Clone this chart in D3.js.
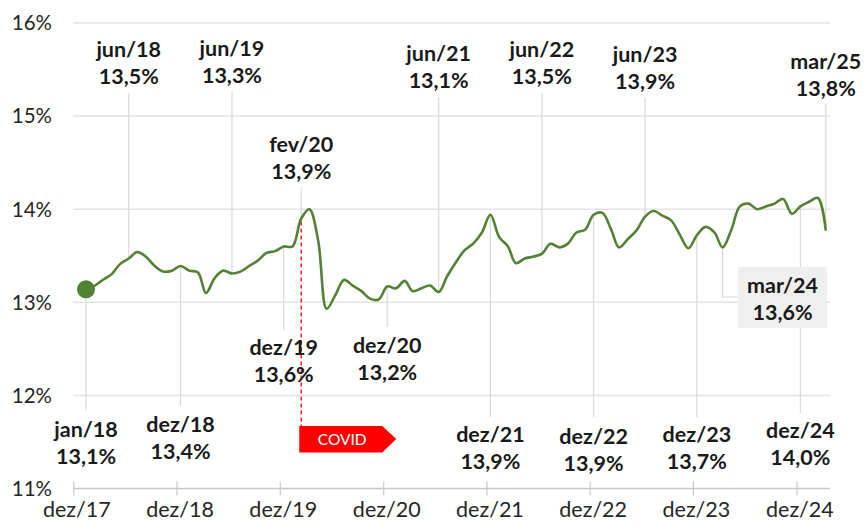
<!DOCTYPE html>
<html>
<head>
<meta charset="utf-8">
<script src="https://cdn.jsdelivr.net/npm/d3@7"></script>
<style>
  body { margin: 0; background: #fff; }
  svg { display: block; font-family: Lato, 'Open Sans', sans-serif; }
</style>
</head>
<body>
<svg id="chart" width="864" height="525"></svg>
<script>
var monthNames = ['jan', 'fev', 'mar', 'abr', 'mai', 'jun', 'jul', 'ago', 'set', 'out', 'nov', 'dez']

// monthly series, jan/18 .. mar/25
var rates = [
  13.14, 13.18, 13.24, 13.30, 13.41, 13.47, 13.54, 13.49, 13.39, 13.33, 13.34, 13.39,
  13.34, 13.32, 13.10, 13.26, 13.34, 13.31, 13.33, 13.39, 13.45, 13.53, 13.55, 13.60,
  13.60, 13.90, 14.00, 13.66, 12.93, 13.08, 13.24, 13.18, 13.12, 13.04, 13.03, 13.17,
  13.15, 13.23, 13.12, 13.15, 13.18, 13.11, 13.28, 13.43, 13.56, 13.63, 13.75, 13.94,
  13.70, 13.60, 13.42, 13.47, 13.49, 13.52, 13.63, 13.59, 13.63, 13.75, 13.78, 13.94,
  13.96, 13.78, 13.59, 13.68, 13.77, 13.92, 13.98, 13.93, 13.88, 13.73, 13.58, 13.72,
  13.81, 13.75, 13.59, 13.78, 14.03, 14.06, 14.00, 14.03, 14.06, 14.11, 13.95, 14.03,
  14.08, 14.12, 13.77
]

var yTicks = [11, 12, 13, 14, 15, 16]
var xTickYears = [2017, 2018, 2019, 2020, 2021, 2022, 2023, 2024]

// annotated months (index into rates)
var topNotes = [5, 17, 25, 41, 53, 65, 86]
var bottomNotes = [0, 11, 23, 35, 47, 59, 71, 83]
var boxedNote = 74
var covidMonth = 25
var covidText = 'COVID'

// text baselines of the annotation labels (layout only)
var noteLayout = {
  5: { y: 57, leader: 93 },
  17: { y: 56, leader: 91 },
  25: { y: 152, leader: 187 },
  41: { y: 61, leader: 97 },
  53: { y: 57, leader: 93 },
  65: { y: 62, leader: 98 },
  86: { y: 69, leader: 104 },
  0: { y: 437, leader: 410 },
  11: { y: 432, leader: 406 },
  23: { y: 355, leader: 330 },
  35: { y: 353, leader: 327 },
  47: { y: 442, leader: 417 },
  59: { y: 444, leader: 417 },
  71: { y: 442, leader: 417 },
  83: { y: 438, leader: 413 }
}

var green = '#548235'
var gridColor = '#e3e3e3'
var leaderColor = '#d9d9d9'

var data = rates.map(function (v, i) {
  var d = new Date(2018, i, 15)
  return { date: d, value: v, name: monthNames[d.getMonth()] + '/' + String(d.getFullYear()).slice(2) }
})

var svg = d3.select('#chart')

var x = d3.scaleTime()
  .domain([new Date(2017, 11, 1), new Date(2024, 11, 1)])
  .range([73.3, 796.4])

var y = d3.scaleLinear()
  .domain([11, 16])
  .range([488.5, 23])

var plotRight = 830

function fmtPct (v) {
  return v.toFixed(1).replace('.', ',') + '%'
}

// gridlines
svg.append('g')
  .selectAll('line')
  .data(yTicks.filter(function (t) { return t > 11 }))
  .join('line')
  .attr('x1', x.range()[0]).attr('x2', plotRight)
  .attr('y1', function (d) { return y(d) }).attr('y2', function (d) { return y(d) })
  .attr('stroke', gridColor).attr('stroke-width', 1.5)

// y labels
svg.append('g')
  .selectAll('text')
  .data(yTicks)
  .join('text')
  .attr('x', 52)
  .attr('y', function (d) { return y(d) })
  .attr('dy', '0.36em')
  .attr('text-anchor', 'end')
  .attr('font-size', 20.5)
  .attr('fill', '#262626')
  .text(function (d) { return d + '%' })

// x axis
var xTicks = xTickYears.map(function (yr) { return new Date(yr, 11, 1) })
var xAxis = d3.axisBottom(x)
  .tickValues(xTicks)
  .tickSize(14)
  .tickFormat(function (d) { return 'dez/' + String(d.getFullYear()).slice(2) })

var gx = svg.append('g')
  .attr('transform', 'translate(0,' + (y(11) - 7) + ')')
  .call(xAxis)
gx.select('.domain').remove()
gx.selectAll('.tick line').attr('stroke', '#c8c8c8').attr('stroke-width', 1.2)
gx.selectAll('.tick text')
  .attr('y', 35)
  .attr('dy', 0)
  .attr('dx', 3)
  .attr('font-family', 'Lato, sans-serif')
  .attr('font-size', 21.5)
  .attr('fill', '#262626')
svg.append('line')
  .attr('x1', x.range()[0]).attr('x2', plotRight)
  .attr('y1', y(11)).attr('y2', y(11))
  .attr('stroke', '#c8c8c8').attr('stroke-width', 1.5)

// leader lines
var leaders = svg.append('g').attr('stroke', leaderColor).attr('stroke-width', 1.2)
topNotes.concat(bottomNotes).forEach(function (i) {
  var d = data[i]
  leaders.append('line')
    .attr('x1', x(d.date)).attr('x2', x(d.date))
    .attr('y1', y(d.value)).attr('y2', noteLayout[i].leader)
})

// boxed note (mar/24)
var bd = data[boxedNote]
var box = { x: 738, y: 267, w: 89, h: 61 }
leaders.append('polyline')
  .attr('fill', 'none')
  .attr('points', [[x(bd.date), y(bd.value)], [x(bd.date), 297], [box.x, 297]].join(' '))
svg.append('rect')
  .attr('x', box.x).attr('y', box.y)
  .attr('width', box.w).attr('height', box.h)
  .attr('fill', '#efefef')

// covid marker
var cd = data[covidMonth]
svg.append('line')
  .attr('x1', x(cd.date)).attr('x2', x(cd.date))
  .attr('y1', y(cd.value) + 3).attr('y2', 427)
  .attr('stroke', '#ff0000').attr('stroke-width', 1.3)
  .attr('stroke-dasharray', '4,3')
var tagX = x(cd.date) - 2
svg.append('polygon')
  .attr('points', [[tagX, 426], [tagX + 83, 426], [tagX + 97, 439], [tagX + 83, 452.5], [tagX, 452.5]].join(' '))
  .attr('fill', '#ff0000')
svg.append('text')
  .attr('x', tagX + 43).attr('y', 445)
  .attr('text-anchor', 'middle')
  .attr('font-size', 15.5)
  .attr('fill', '#fff')
  .text(covidText)

// line
var line = d3.line()
  .x(function (d) { return x(d.date) })
  .y(function (d) { return y(d.value) })
  .curve(d3.curveCatmullRom.alpha(0.5))

svg.append('path')
  .datum(data)
  .attr('fill', 'none')
  .attr('stroke', green)
  .attr('stroke-width', 2.6)
  .attr('stroke-linejoin', 'round')
  .attr('d', line)

svg.append('circle')
  .attr('cx', x(data[0].date)).attr('cy', y(data[0].value))
  .attr('r', 9)
  .attr('fill', green)

// annotation labels
function drawNote (i, cx, baseY) {
  var d = data[i]
  var t = svg.append('text')
    .attr('text-anchor', 'middle')
    .attr('font-weight', 700)
    .attr('font-size', 21.5)
    .attr('fill', '#1a1a1a')
  t.append('tspan').attr('x', cx).attr('y', baseY).text(d.name)
  t.append('tspan').attr('x', cx).attr('y', baseY + 26.5).text(fmtPct(d.value))
}

topNotes.concat(bottomNotes).forEach(function (i) {
  drawNote(i, x(data[i].date), noteLayout[i].y)
})
drawNote(boxedNote, box.x + box.w / 2, 293)
</script>
</body>
</html>
